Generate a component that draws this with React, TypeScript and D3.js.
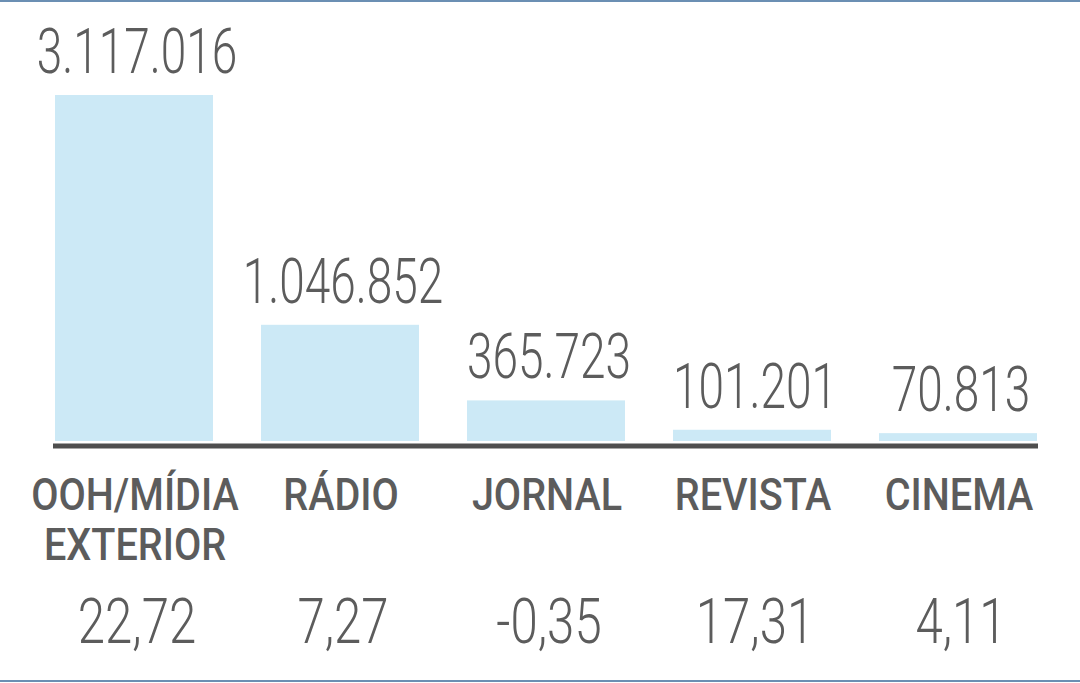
import * as d3 from "d3";

const categories = ["OOH/MÍDIA EXTERIOR", "RÁDIO", "JORNAL", "REVISTA", "CINEMA"];
const categoryLines = [["OOH/MÍDIA", "EXTERIOR"], ["RÁDIO"], ["JORNAL"], ["REVISTA"], ["CINEMA"]];
const values = [3117016, 1046852, 365723, 101201, 70813];
const variation = [22.72, 7.27, -0.35, 17.31, 4.11];

const W = 1080;
const H = 683;

const ptBR = d3.formatLocale({
  decimal: ",",
  thousands: ".",
  grouping: [3],
  currency: ["R$", ""],
  minus: "-",
});
const fmtValue = ptBR.format(",d");
const fmtVar = ptBR.format(".2f");

const textColor = "#5c5c5c";
const barColor = "#cce9f6";

export default function App() {
  const x = d3
    .scaleBand<string>()
    .domain(categories)
    .range([55, 1037])
    .paddingInner(0.233)
    .paddingOuter(0);

  const y = d3.scaleLinear().domain([0, d3.max(values) || 1]).range([441, 95]);

  const cx = (c: string) => (x(c) || 0) + x.bandwidth() / 2;

  return (
    <svg
      width={W}
      height={H}
      style={{ position: "absolute", left: 0, top: 0, background: "#fff" }}
      fontFamily="Roboto, 'Noto Sans', sans-serif"
    >
      {/* frame lines top & bottom */}
      <line x1={0} x2={W} y1={1} y2={1} stroke="#6b8fb3" strokeWidth={2} />
      <line x1={0} x2={W} y1={681} y2={681} stroke="#6b8fb3" strokeWidth={2} />

      {/* bars */}
      {categories.map((c, i) => (
        <rect
          key={c}
          x={x(c)}
          y={y(values[i])}
          width={x.bandwidth()}
          height={y(0) - y(values[i])}
          fill={barColor}
        />
      ))}

      {/* baseline */}
      <line x1={53} x2={1038} y1={446} y2={446} stroke="#4e4e4e" strokeWidth={5} />

      {/* value labels */}
      {categories.map((c, i) => (
        <text
          key={c}
          transform={`translate(${cx(c) + 3},${y(values[i]) - 22}) scale(0.73,1)`}
          textAnchor="middle"
          fontSize={63}
          fontWeight={300}
          fill={textColor}
        >
          {fmtValue(values[i])}
        </text>
      ))}

      {/* category labels */}
      {categories.map((c, i) =>
        categoryLines[i].map((line, j) => (
          <text
            key={c + j}
            transform={`translate(${cx(c) + 1},${510 + j * 50}) scale(0.9,1)`}
            textAnchor="middle"
            fontSize={44}
            fontWeight={500}
            fill={textColor}
          >
            {line}
          </text>
        ))
      )}

      {/* variation */}
      {categories.map((c, i) => (
        <text
          key={c}
          transform={`translate(${cx(c) + 3},643) scale(0.78,1)`}
          textAnchor="middle"
          fontSize={63}
          fontWeight={300}
          fill={textColor}
        >
          {fmtVar(variation[i])}
        </text>
      ))}
    </svg>
  );
}
